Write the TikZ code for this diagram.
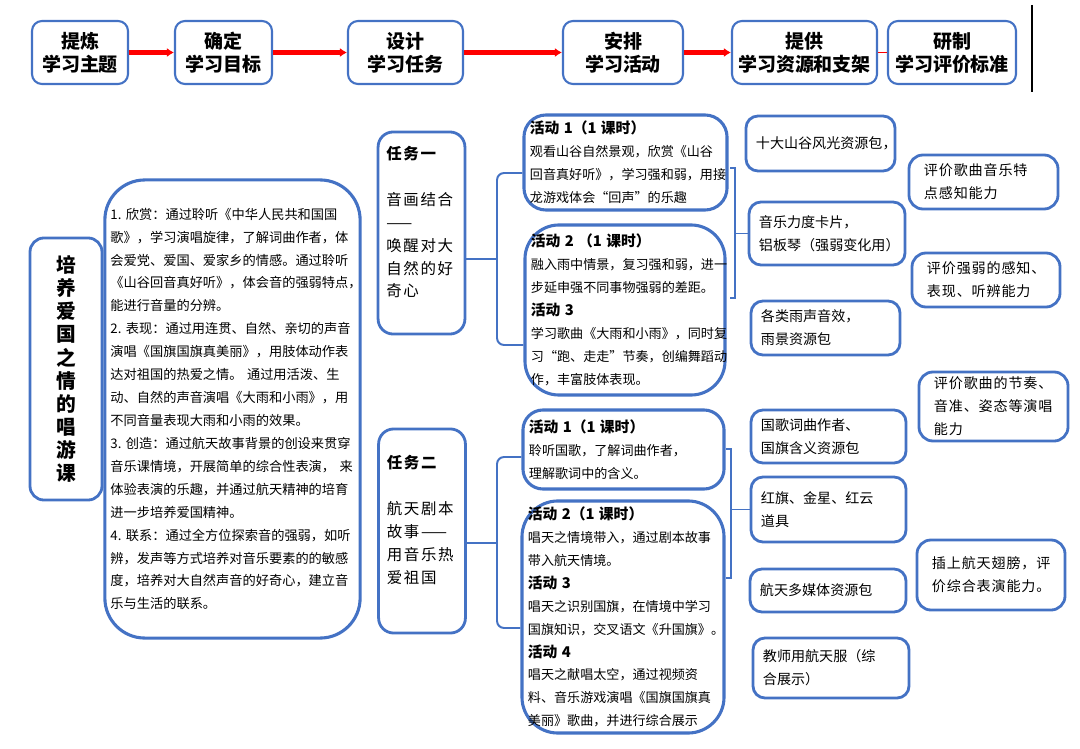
\documentclass[tikz,border=0pt]{standalone}
\usepackage{fontspec}
\setmainfont{Noto Sans CJK SC}
\usepackage{tikz}
\usetikzlibrary{arrows.meta}

\definecolor{boxblue}{RGB}{68,114,196}
\definecolor{arrowred}{RGB}{255,0,0}

\begin{document}
\begin{tikzpicture}[
    x=0.025cm, y=-0.025cm,
    every node/.style={font=\fontsize{10}{16.3}\selectfont},
    topbox/.style={
        rectangle,
        draw=boxblue,
        line width=1.5pt,
        rounded corners=0.25cm,
        minimum height=1.575cm,
        inner sep=0pt,
        align=center,
        font=\fontsize{13.5}{16.3}\selectfont\bfseries
    },
    titlebox/.style={
        rectangle,
        draw=boxblue,
        line width=2pt,
        rounded corners=0.35cm,
        minimum width=1.8cm,
        minimum height=6.55cm,
        align=center,
        font=\fontsize{14}{16.4}\selectfont\bfseries
    },
    goalbox/.style={
        rectangle,
        draw=boxblue,
        line width=2.2pt,
        rounded corners=1cm,
        text width=6.1cm,
        inner xsep=0.14cm,
        minimum height=11.45cm,
        align=left,
        font=\fontsize{9.4}{16.3}\selectfont
    },
    taskbox/.style={
        rectangle,
        draw=boxblue,
        line width=2pt,
        rounded corners=0.375cm,
        text width=1.75cm,
        inner xsep=0.21cm,
        align=left,
        font=\fontsize{11}{16.3}\selectfont\addfontfeature{LetterSpace=10}
    },
    actbox/.style={
        rectangle,
        draw=boxblue,
        line width=2.2pt,
        inner xsep=0.15cm,
        align=left,
        font=\fontsize{9.3}{16.3}\selectfont
    },
    resbox/.style={
        rectangle,
        draw=boxblue,
        line width=2pt,
        rounded corners=0.3cm,
        inner xsep=0.25cm,
        align=left
    },
    evalbox/.style={
        rectangle,
        draw=boxblue,
        line width=2pt,
        rounded corners=0.35cm,
        inner xsep=0.375cm,
        align=left,
        font=\fontsize{10}{16.3}\selectfont\addfontfeature{LetterSpace=6}
    },
    redarrow/.style={-{Latex[length=5pt,width=6.5pt]}, draw=arrowred, line width=3pt},
    redline/.style={draw=arrowred, line width=1.4pt},
    brace/.style={draw=boxblue, line width=1.4pt}
]
\useasboundingbox (0,0) rectangle (1080,749);

% Nodes
\node (s1) [topbox, minimum width=2.4cm] at (80,52.5) {提炼\\学习主题};
\node (s2) [topbox, minimum width=2.425cm] at (223.5,52.5) {确定\\学习目标};
\node (s3) [topbox, minimum width=2.875cm] at (405.5,52.5) {设计\\学习任务};
\node (s4) [topbox, minimum width=3cm] at (623,52.5) {安排\\学习活动};
\node (s5) [topbox, minimum width=3.625cm] at (804.5,52.5) {提供\\学习资源和支架};
\node (s6) [topbox, minimum width=3.2cm] at (952,52.5) {研制\\学习评价标准};

\node (title) [titlebox] at (66,369)
{培\\养\\爱\\国\\之\\情\\的\\唱\\游\\课};

\node (goal) [goalbox] at (232.5,409)
{1.~欣赏：通过聆听《中华人民共和国国\\
歌》，学习演唱旋律，了解词曲作者，体\\
会爱党、爱国、爱家乡的情感。通过聆听\\
《山谷回音真好听》，体会音的强弱特点，\\
能进行音量的分辨。\\
2.~表现：通过用连贯、自然、亲切的声音\\
演唱《国旗国旗真美丽》，用肢体动作表\\
达对祖国的热爱之情。~通过用活泼、生\\
动、自然的声音演唱《大雨和小雨》，用\\
不同音量表现大雨和小雨的效果。\\
3.~创造：通过航天故事背景的创设来贯穿\\
音乐课情境，开展简单的综合性表演，~来\\
体验表演的乐趣，并通过航天精神的培育\\
进一步培养爱国精神。\\
4.~联系：通过全方位探索音的强弱，如听\\
辨，发声等方式培养对音乐要素的的敏感\\
度，培养对大自然声音的好奇心，建立音\\
乐与生活的联系。};

\node (task1) [taskbox, minimum height=5.05cm] at (421.5,233)
{\textbf{任务一}\\~\\音画结合\\——\\唤醒对大\\自然的好\\奇心\\~};

\node (task2) [taskbox, minimum height=5.1cm] at (422,531)
{\textbf{任务二}\\~\\航天剧本\\故事——\\用音乐热\\爱祖国\\~};

\node (act1) [actbox, text width=4.775cm, minimum height=2.375cm, rounded corners=0.55cm] at (625.5,162.5)
{{\fontsize{10.5}{16.3}\selectfont\bfseries 活动 1（1 课时）}\\
观看山谷自然景观，欣赏《山谷\\
回音真好听》，学习强和弱，用接\\
龙游戏体会“回声”的乐趣};

\node (act2) [actbox, text width=4.7cm, minimum height=4.25cm, rounded corners=0.85cm] at (625,310)
{{\fontsize{10.5}{16.3}\selectfont\bfseries 活动 2 （1 课时）}\\
融入雨中情景，复习强和弱，进一\\
步延申强不同事物强弱的差距。\\
{\fontsize{10.5}{16.3}\selectfont\bfseries 活动 3}\\
学习歌曲《大雨和小雨》，同时复\\
习“跑、走走”节奏，创编舞蹈动\\
作，丰富肢体表现。};

\node (act4) [actbox, text width=4.725cm, minimum height=1.975cm, rounded corners=0.5cm] at (623.5,449.5)
{{\fontsize{10.5}{16.3}\selectfont\bfseries 活动 1（1 课时）}\\
聆听国歌，了解词曲作者，\\
理解歌词中的含义。};

\node (act5) [actbox, text width=4.75cm, minimum height=5.8cm, rounded corners=0.9cm] at (623,617)
{{\fontsize{10.5}{16.3}\selectfont\bfseries 活动 2（1 课时）}\\
唱天之情境带入，通过剧本故事\\
带入航天情境。\\
{\fontsize{10.5}{16.3}\selectfont\bfseries 活动 3}\\
唱天之识别国旗，在情境中学习\\
国旗知识，交叉语文《升国旗》。\\
{\fontsize{10.5}{16.3}\selectfont\bfseries 活动 4}\\
唱天之献唱太空，通过视频资\\
料、音乐游戏演唱《国旗国旗真\\
美丽》歌曲，并进行综合展示};

\node (res1) [resbox, text width=3.225cm, minimum height=1.375cm] at (820.5,143.5) {十大山谷风光资源包，};
\node (res2) [resbox, text width=3.4cm, minimum height=1.575cm] at (827,233.5) {音乐力度卡片，\\铝板琴（强弱变化用）};
\node (res3) [resbox, text width=3.225cm, minimum height=1.35cm] at (825.5,328) {各类雨声音效，\\雨景资源包};
\node (res4) [resbox, text width=3.375cm, minimum height=1.325cm] at (828.5,436.5) {国歌词曲作者、\\国旗含义资源包};
\node (res5) [resbox, text width=3.375cm, minimum height=1.625cm] at (828.5,509.5) {红旗、金星、红云\\道具};
\node (res6) [resbox, text width=3.4cm, minimum height=1.075cm] at (828,590.5) {航天多媒体资源包};
\node (res7) [resbox, text width=3.4cm, minimum height=1.5cm] at (831,668) {教师用航天服（综\\合展示）};

\node (eval1) [evalbox, text width=2.975cm, minimum height=1.35cm] at (983.5,182) {评价歌曲音乐特\\点感知能力};
\node (eval2) [evalbox, text width=2.95cm, minimum height=1.35cm] at (986,280) {评价强弱的感知、\\表现、听辨能力};
\node (eval3) [evalbox, text width=2.975cm, minimum height=1.725cm] at (993.5,406.5) {评价歌曲的节奏、\\音准、姿态等演唱\\能力};
\node (eval4) [evalbox, text width=2.95cm, minimum height=1.75cm] at (991,575) {插上航天翅膀，评\\价综合表演能力。};

% Arrows
\draw [redarrow] (s1) -- (s2);
\draw [redarrow] (s2) -- (s3);
\draw [redarrow] (s3) -- (s4);
\draw [redarrow] (s4) -- (s5);
\draw [redline] (s5) -- (s6);
\draw [line width=1.5pt] (1032,5) -- (1032,92);

% Braces
\draw [brace] (task1.east |- 0,259) -- (497,259);
\draw [brace, rounded corners=5pt] (act1.west |- 0,173) -| (497,345) -- (act2.west |- 0,345);
\draw [brace] (task2.east |- 0,543) -- (497,543);
\draw [brace, rounded corners=5pt] (act4.west |- 0,457) -| (497,628) -- (act5.west |- 0,628);

\coordinate (ra) at (735,168);
\coordinate (rb) at (735,298);
\draw [brace] (ra) ++(-5,0) -- (ra) -- (rb) -- ++(-5,0);
\draw [brace] (res2.west -| ra) -- (res2.west);

\coordinate (rc) at (731,449);
\coordinate (rd) at (731,578);
\draw [brace] (rc) ++(-5,0) -- (rc) -- (rd) -- ++(-5,0);
\draw [brace] (res5.west -| rc) -- (res5.west);

\end{tikzpicture}
\end{document}
